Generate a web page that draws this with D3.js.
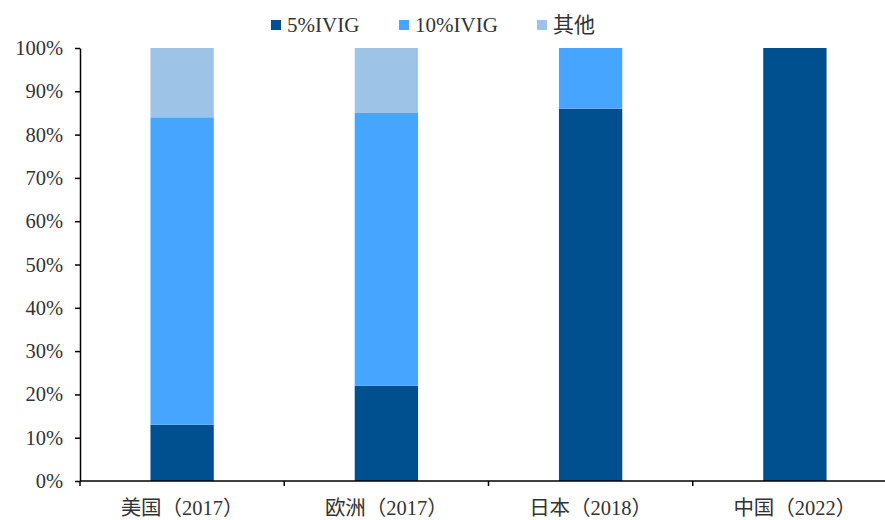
<!DOCTYPE html>
<html>
<head>
<meta charset="utf-8">
<script src="https://cdn.jsdelivr.net/npm/d3@7"></script>
<style>
    body { margin: 0; background: #fff; }
    text { font-family: "Liberation Serif", "Times New Roman", "Noto Sans CJK SC", serif; fill: #333; }
</style>
</head>
<body>
<script>
// categories and series (shares, %)
var categories = ["美国（2017）", "欧洲（2017）", "日本（2018）", "中国（2022）"];
var seriesNames = ["5%IVIG", "10%IVIG", "其他"];
var ivig5 = [13, 22, 86, 100];
var ivig10 = [71, 63, 14, 0];
var others = [16, 15, 0, 0];
var yTicks = [0, 10, 20, 30, 40, 50, 60, 70, 80, 90, 100];
var colors = ["#00508f", "#46a6ff", "#9dc3e6"];

var width = 885, height = 520;
var margin = {top: 48, right: -12, bottom: 39, left: 80};
var plot_w = width - margin.left - margin.right;
var plot_h = height - margin.top - margin.bottom;

// build rows for the stack
var rows = categories.map(function(c, i) {
    return {cat: c, "5%IVIG": ivig5[i], "10%IVIG": ivig10[i], "其他": others[i]};
});
var stacked = d3.stack().keys(seriesNames)(rows);

var svg = d3.select("body").append("svg")
    .attr("width", width)
    .attr("height", height);

var g = svg.append("g")
    .attr("transform", "translate(" + margin.left + "," + margin.top + ")");

var x = d3.scaleBand()
    .domain(categories)
    .range([0, plot_w])
    .paddingInner(0.69)
    .paddingOuter(0.345);

var y = d3.scaleLinear()
    .domain([0, 100])
    .range([plot_h, 0]);

var color = d3.scaleOrdinal().domain(seriesNames).range(colors);

// bars
g.selectAll("g.layer")
    .data(stacked)
    .enter().append("g")
    .attr("class", "layer")
    .attr("fill", function(d) { return color(d.key); })
    .selectAll("rect")
    .data(function(d) { return d; })
    .enter().append("rect")
    .attr("x", function(d) { return x(d.data.cat); })
    .attr("width", x.bandwidth())
    .attr("y", function(d) { return y(d[1]); })
    .attr("height", function(d) { return y(d[0]) - y(d[1]); });

// y axis
var yAxis = g.append("g")
    .call(d3.axisLeft(y).tickValues(yTicks).tickSize(5).tickSizeOuter(0)
        .tickFormat(function(d) { return d + "%"; }));
yAxis.select(".domain").attr("stroke", "#000").attr("stroke-width", 1.5);
yAxis.selectAll(".tick line").attr("stroke", "#000").attr("stroke-width", 1.5);
yAxis.selectAll(".tick text")
    .attr("x", -17)
    .style("font-size", "20.5px");

// x axis: ticks at category boundaries
var step = plot_w / categories.length;
var xb = g.append("g").attr("transform", "translate(0," + plot_h + ")");
xb.append("line")
    .attr("x1", 0).attr("x2", plot_w)
    .attr("stroke", "#000").attr("stroke-width", 1.5);
xb.selectAll("line.tk")
    .data(d3.range(categories.length + 1))
    .enter().append("line")
    .attr("class", "tk")
    .attr("x1", function(d) { return d * step; })
    .attr("x2", function(d) { return d * step; })
    .attr("y1", 0).attr("y2", 5)
    .attr("stroke", "#000").attr("stroke-width", 1.5);
xb.selectAll("text")
    .data(categories)
    .enter().append("text")
    .attr("x", function(d) { return x(d) + x.bandwidth() / 2; })
    .attr("y", 27)
    .attr("dy", "0.35em")
    .attr("text-anchor", "middle")
    .style("font-size", "20.5px")
    .text(function(d) { return d; });

// legend
var legendX = [271, 399, 537];
var legend = svg.selectAll("g.legend")
    .data(seriesNames)
    .enter().append("g")
    .attr("class", "legend")
    .attr("transform", function(d, i) { return "translate(" + legendX[i] + ",25)"; });
legend.append("rect")
    .attr("x", 0).attr("y", -5)
    .attr("width", 10).attr("height", 10)
    .attr("fill", function(d) { return color(d); });
legend.append("text")
    .attr("x", 16)
    .attr("dy", "0.35em")
    .style("font-size", "21px")
    .text(function(d) { return d; });
</script>
</body>
</html>
